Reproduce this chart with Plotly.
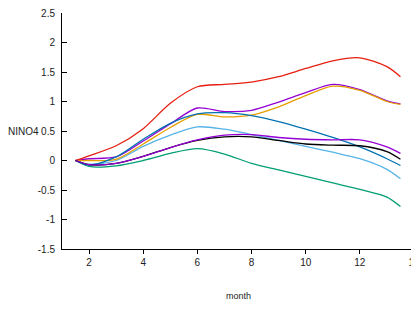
import plotly.graph_objects as go

months = [1.5, 2, 3, 4, 5, 6, 7, 8, 9, 10, 11, 12, 13, 13.5]

red = [0, 0.08, 0.25, 0.54, 0.97, 1.25, 1.29, 1.33, 1.42, 1.56, 1.69, 1.74, 1.59, 1.42]
purple_hi = [0, 0.03, 0.06, 0.33, 0.62, 0.89, 0.83, 0.85, 0.99, 1.15, 1.29, 1.20, 1.01, 0.96]
orange = [0, 0.0, 0.02, 0.28, 0.56, 0.78, 0.74, 0.77, 0.91, 1.10, 1.26, 1.19, 1.00, 0.95]
blue = [0, -0.08, 0.06, 0.36, 0.63, 0.79, 0.81, 0.76, 0.66, 0.53, 0.39, 0.23, 0.03, -0.085]
lightblue = [0, -0.06, 0.0, 0.24, 0.43, 0.57, 0.53, 0.44, 0.34, 0.24, 0.14, 0.03, -0.15, -0.31]
purple_lo = [0, -0.07, -0.05, 0.07, 0.22, 0.35, 0.43, 0.44, 0.39, 0.36, 0.35, 0.35, 0.23, 0.12]
black = [0, -0.07, -0.05, 0.07, 0.22, 0.34, 0.40, 0.40, 0.34, 0.28, 0.26, 0.25, 0.15, 0.02]
green = [0, -0.10, -0.09, 0.0, 0.12, 0.20, 0.11, -0.05, -0.16, -0.27, -0.38, -0.49, -0.62, -0.78]

series = [
    ("s1", purple_hi, "#9400D3"),
    ("s2", green, "#009E73"),
    ("s3", lightblue, "#56B4E9"),
    ("s4", orange, "#E69F00"),
    ("s5", blue, "#0072B2"),
    ("s6", red, "#E51E10"),
    ("s7", black, "#000000"),
    ("s8", purple_lo, "#9400D3"),
]

y_ticks = [-1.5, -1, -0.5, 0, 0.5, 1, 1.5, 2, 2.5]
y_labels = ["-1.5", "-1", "-0.5", "0", "0.5", "1", "1.5", "2", "2.5"]
x_ticks = [2, 4, 6, 8, 10, 12, 14]
x_labels = ["2", "4", "6", "8", "10", "12", "14"]

fig = go.Figure()
for name, vals, col in series:
    fig.add_trace(go.Scatter(x=months, y=vals, mode="lines", name=name,
                             line=dict(color=col, width=1.3, shape="spline", smoothing=0.8)))

font = dict(family="Liberation Sans, Arial, sans-serif", size=10, color="#222")

fig.update_layout(
    width=411, height=301,
    margin=dict(l=54, r=5, t=5, b=60),
    paper_bgcolor="white", plot_bgcolor="white",
    showlegend=False,
    font=font,
    xaxis=dict(range=[1, 14], tickvals=x_ticks, ticktext=x_labels,
               ticks="outside", ticklen=4, tickwidth=1, tickcolor="#000",
               showline=True, linecolor="#000", linewidth=1,
               showgrid=False, zeroline=False, tickfont=font,
               automargin=False, ticklabeloverflow="allow"),
    xaxis2=dict(range=[1, 14], overlaying="x", side="bottom", anchor="y",
                tickvals=x_ticks, ticks="inside", ticklen=5, tickwidth=1,
                tickcolor="#000", showticklabels=False, showline=False,
                showgrid=False, zeroline=False, automargin=False),
    yaxis=dict(range=[-1.5, 2.5], tickvals=y_ticks, ticktext=y_labels,
               ticks="inside", ticklen=5, tickwidth=1, tickcolor="#000",
               showline=True, linecolor="#000", linewidth=1,
               showgrid=False, zeroline=False, tickfont=font,
               ticklabelstandoff=4, automargin=False, ticklabeloverflow="allow"),
)

fig.add_annotation(text="NINO4", xref="paper", yref="y", x=0, y=0.5,
                   xshift=-21, xanchor="right", yanchor="middle",
                   showarrow=False, font=font)
fig.add_annotation(text="month", xref="paper", yref="paper", x=0.5,
                   y=-0.199, xanchor="center", yanchor="middle",
                   showarrow=False, font=dict(family=font["family"], size=9, color="#222"))

fig.write_html("out.html")
